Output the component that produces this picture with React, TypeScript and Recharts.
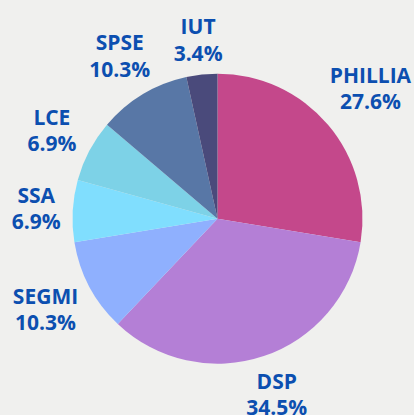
import { Cell, Pie, PieChart } from "recharts";

// Lab membership counts (share of 29)
const labs = ["PHILLIA", "DSP", "SEGMI", "SSA", "LCE", "SPSE", "IUT"];
const counts = [8, 10, 3, 2, 2, 3, 1];
const colors = ["#c4488b", "#b47fd6", "#8fb0fe", "#80defe", "#7dd2e7", "#5877a6", "#4a4a7b"];

const data = labs.map((name, i) => ({ name, value: counts[i] }));

const RAD = Math.PI / 180;
const TEXT = "#0c4fb0";
const FONT = 21;
const LINE = 26.5;
const FONT_CSS = `700 ${FONT}px 'Open Sans', sans-serif`;

let ctx: CanvasRenderingContext2D | null = null;
function textWidth(s: string) {
  if (!ctx) ctx = document.createElement("canvas").getContext("2d");
  if (!ctx) return s.length * 11;
  ctx.font = FONT_CSS;
  return ctx.measureText(s).width;
}

function renderLabel(props: any) {
  const { cx, cy, midAngle, outerRadius, name, percent } = props;
  const pct = `${(percent * 100).toFixed(1)}%`;
  const dx = Math.cos(midAngle * RAD);
  const dy = -Math.sin(midAngle * RAD);
  // push the label box out until its near edge clears the rim
  const w = Math.max(textWidth(name), textWidth(pct));
  const h = 42;
  const dist = outerRadius + 11 + Math.abs(dx) * (w / 2) + Math.abs(dy) * (h / 2);
  const x = cx + dx * dist;
  const y = cy + dy * dist;
  return (
    <text
      x={x}
      y={y}
      textAnchor="middle"
      fill={TEXT}
      fontFamily="'Open Sans', sans-serif"
      fontWeight={700}
      fontSize={FONT}
    >
      <tspan x={x} dy={-6}>{name}</tspan>
      <tspan x={x} dy={LINE}>{pct}</tspan>
    </text>
  );
}

export default function App() {
  return (
    <div style={{ position: "absolute", left: 0, top: 0, width: 414, height: 415, background: "#f0f0ee" }}>
      <PieChart width={414} height={415} margin={{ top: 0, right: 0, bottom: 0, left: 0 }}>
        <Pie
          data={data}
          dataKey="value"
          nameKey="name"
          cx={217.5}
          cy={218.7}
          outerRadius={145}
          startAngle={90}
          endAngle={-270}
          stroke="none"
          label={renderLabel}
          labelLine={false}
          isAnimationActive={false}
        >
          {data.map((_, i) => (
            <Cell key={i} fill={colors[i]} />
          ))}
        </Pie>
      </PieChart>
    </div>
  );
}
